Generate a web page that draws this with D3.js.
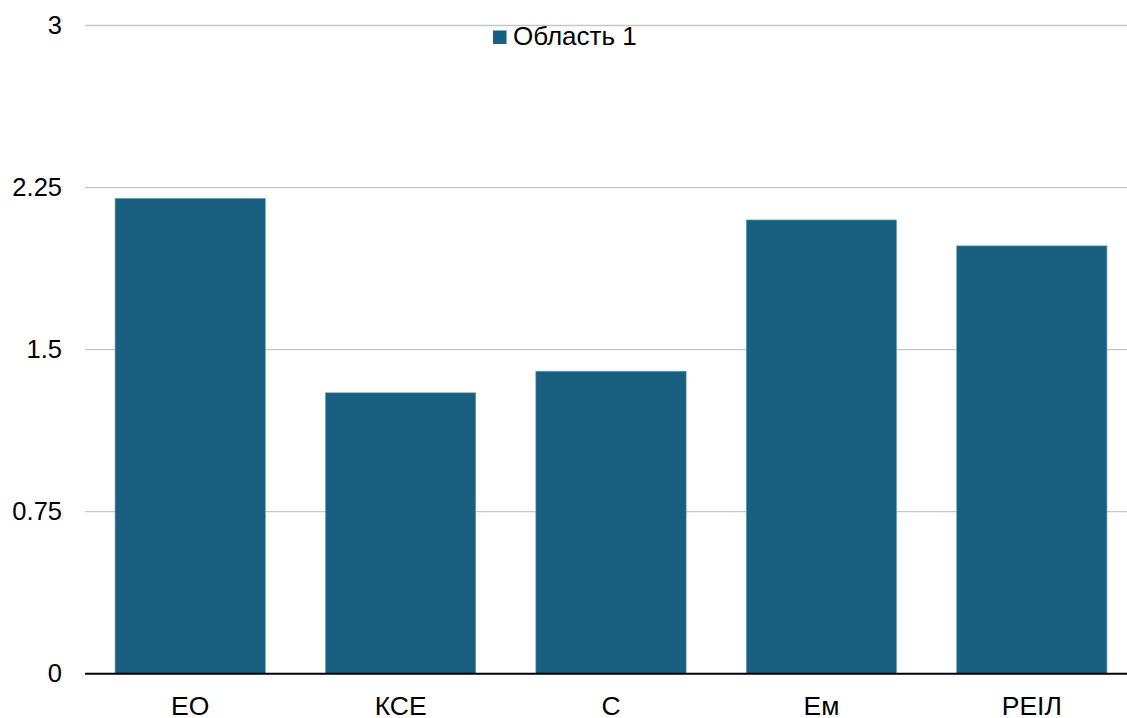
<!DOCTYPE html>
<html>
<head>
<meta charset="utf-8">
<script src="https://cdn.jsdelivr.net/npm/d3@7"></script>
<style>
  html, body { margin: 0; padding: 0; background: #fff; }
  svg { display: block; font-family: "Liberation Sans", Arial, sans-serif; }
</style>
</head>
<body>
<svg id="chart" width="1127" height="718"></svg>
<script>
// Data
const categories = ["ЕО", "КСЕ", "С", "Ем", "РЕІЛ"];
const values = [2.2, 1.3, 1.4, 2.1, 1.98];
const yTicks = [0, 0.75, 1.5, 2.25, 3];
const seriesName = "Область 1";

const W = 1127, H = 718;
const barColor = "#185f80";

const svg = d3.select("#chart");

const x = d3.scaleBand()
  .domain(categories)
  .range([85, 1137])
  .paddingInner(0.2857)
  .paddingOuter(0.1428);

const y = d3.scaleLinear()
  .domain([0, 3])
  .range([673.7, 25.5]);

// Horizontal gridlines
svg.append("g")
  .selectAll("line")
  .data(yTicks.filter(d => d !== 0))
  .join("line")
  .attr("x1", 85)
  .attr("x2", W)
  .attr("y1", d => y(d))
  .attr("y2", d => y(d))
  .attr("stroke", "#c6c6c6")
  .attr("stroke-width", 1.3);

// Y axis labels
const yAxis = d3.axisLeft(y)
  .tickValues(yTicks)
  .tickFormat(d => String(d))
  .tickSize(0)
  .tickPadding(0);

const gy = svg.append("g")
  .attr("transform", "translate(62,0)")
  .call(yAxis);
gy.select(".domain").remove();
gy.selectAll("text")
  .attr("font-size", 25.5)
  .attr("font-family", "'Liberation Sans', Arial, sans-serif")
  .attr("fill", "#000");

// Bars
svg.append("g")
  .selectAll("rect")
  .data(categories.map((c, i) => ({ c, v: values[i] })))
  .join("rect")
  .attr("x", d => x(d.c))
  .attr("width", x.bandwidth())
  .attr("y", d => y(d.v))
  .attr("height", d => y(0) - y(d.v))
  .attr("fill", barColor)
  .attr("stroke", "#6f9fb6")
  .attr("stroke-width", 0.6);

// Baseline
svg.append("line")
  .attr("x1", 85)
  .attr("x2", W)
  .attr("y1", y(0))
  .attr("y2", y(0))
  .attr("stroke", "#000")
  .attr("stroke-width", 2);

// X axis labels
const xAxis = d3.axisBottom(x).tickSize(0).tickPadding(0);
const gx = svg.append("g")
  .attr("transform", `translate(0,${y(0)})`)
  .call(xAxis);
gx.select(".domain").remove();
gx.selectAll("text")
  .attr("dy", null)
  .attr("y", 41)
  .attr("font-size", 26.5)
  .attr("font-family", "'Liberation Sans', Arial, sans-serif")
  .attr("fill", "#000");

// Legend
const legend = svg.append("g").attr("transform", "translate(493,30.5)");
legend.append("rect")
  .attr("width", 13.5)
  .attr("height", 13.5)
  .attr("fill", barColor);
legend.append("text")
  .attr("x", 20)
  .attr("y", 14.8)
  .attr("font-size", 26)
  .attr("fill", "#000")
  .text(seriesName);
</script>
</body>
</html>
